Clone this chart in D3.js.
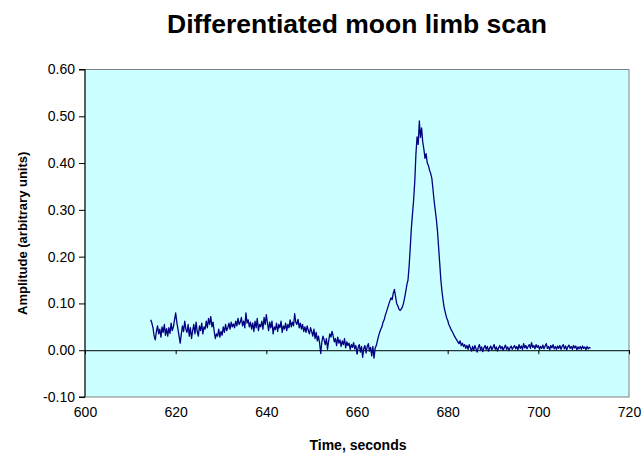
<!DOCTYPE html>
<html>
<head>
<meta charset="utf-8">
<script src="https://cdn.jsdelivr.net/npm/d3@7"></script>
<style>
  html, body { margin: 0; padding: 0; background: #ffffff; }
  svg { display: block; }
  text { font-family: "Liberation Sans", Arial, sans-serif; }
</style>
</head>
<body>
<svg id="chart" width="644" height="454"></svg>
<script>
const chartTitle = "Differentiated moon limb scan";
const xAxisTitle = "Time, seconds";
const yAxisTitle = "Amplitude (arbitrary units)";
const xTicks = [600, 620, 640, 660, 680, 700, 720];
const xTickLabels = ["600", "620", "640", "660", "680", "700", "720"];
const yTicks = [-0.1, 0, 0.1, 0.2, 0.3, 0.4, 0.5, 0.6];
const yTickLabels = ["-0.10", "0.00", "0.10", "0.20", "0.30", "0.40", "0.50", "0.60"];

const times = [
  614.5, 614.75, 615, 615.25, 615.5, 615.75, 616, 616.25, 616.5, 616.75, 617, 617.25, 617.5, 617.75, 618, 618.25, 618.5, 618.75, 619, 619.25,
  619.5, 619.75, 620, 620.25, 620.5, 620.75, 621, 621.25, 621.5, 621.75, 622, 622.25, 622.5, 622.75, 623, 623.25, 623.5, 623.75, 624, 624.25,
  624.5, 624.75, 625, 625.25, 625.5, 625.75, 626, 626.25, 626.5, 626.75, 627, 627.25, 627.5, 627.75, 628, 628.25, 628.5, 628.75, 629, 629.25,
  629.5, 629.75, 630, 630.25, 630.5, 630.75, 631, 631.25, 631.5, 631.75, 632, 632.25, 632.5, 632.75, 633, 633.25, 633.5, 633.75, 634, 634.25,
  634.5, 634.75, 635, 635.25, 635.5, 635.75, 636, 636.25, 636.5, 636.75, 637, 637.25, 637.5, 637.75, 638, 638.25, 638.5, 638.75, 639, 639.25,
  639.5, 639.75, 640, 640.25, 640.5, 640.75, 641, 641.25, 641.5, 641.75, 642, 642.25, 642.5, 642.75, 643, 643.25, 643.5, 643.75, 644, 644.25,
  644.5, 644.75, 645, 645.25, 645.5, 645.75, 646, 646.25, 646.5, 646.75, 647, 647.25, 647.5, 647.75, 648, 648.25, 648.5, 648.75, 649, 649.25,
  649.5, 649.75, 650, 650.25, 650.5, 650.75, 651, 651.25, 651.5, 651.75, 652, 652.25, 652.5, 652.75, 653, 653.25, 653.5, 653.75, 654, 654.25,
  654.5, 654.75, 655, 655.25, 655.5, 655.75, 656, 656.25, 656.5, 656.75, 657, 657.25, 657.5, 657.75, 658, 658.25, 658.5, 658.75, 659, 659.25,
  659.5, 659.75, 660, 660.25, 660.5, 660.75, 661, 661.25, 661.5, 661.75, 662, 662.25, 662.5, 662.75, 663, 663.25, 663.5, 663.75, 664, 664.25,
  664.5, 664.75, 665, 665.25, 665.5, 665.75, 666, 666.25, 666.5, 666.75, 667, 667.25, 667.5, 667.75, 668, 668.25, 668.5, 668.75, 669, 669.25,
  669.5, 669.75, 670, 670.25, 670.5, 670.75, 671, 671.25, 671.5, 671.75, 672, 672.25, 672.5, 672.75, 673, 673.25, 673.5, 673.75, 674, 674.25,
  674.5, 674.75, 675, 675.25, 675.5, 675.75, 676, 676.25, 676.5, 676.75, 677, 677.25, 677.5, 677.75, 678, 678.25, 678.5, 678.75, 679, 679.25,
  679.5, 679.75, 680, 680.25, 680.5, 680.75, 681, 681.25, 681.5, 681.75, 682, 682.25, 682.5, 682.75, 683, 683.25, 683.5, 683.75, 684, 684.25,
  684.5, 684.75, 685, 685.25, 685.5, 685.75, 686, 686.25, 686.5, 686.75, 687, 687.25, 687.5, 687.75, 688, 688.25, 688.5, 688.75, 689, 689.25,
  689.5, 689.75, 690, 690.25, 690.5, 690.75, 691, 691.25, 691.5, 691.75, 692, 692.25, 692.5, 692.75, 693, 693.25, 693.5, 693.75, 694, 694.25,
  694.5, 694.75, 695, 695.25, 695.5, 695.75, 696, 696.25, 696.5, 696.75, 697, 697.25, 697.5, 697.75, 698, 698.25, 698.5, 698.75, 699, 699.25,
  699.5, 699.75, 700, 700.25, 700.5, 700.75, 701, 701.25, 701.5, 701.75, 702, 702.25, 702.5, 702.75, 703, 703.25, 703.5, 703.75, 704, 704.25,
  704.5, 704.75, 705, 705.25, 705.5, 705.75, 706, 706.25, 706.5, 706.75, 707, 707.25, 707.5, 707.75, 708, 708.25, 708.5, 708.75, 709, 709.25,
  709.5, 709.75, 710, 710.25, 710.5, 710.75, 711, 711.25, 711.5
];

const amplitude = [
  0.065, 0.058, 0.048, 0.030, 0.022, 0.040, 0.052, 0.035, 0.045, 0.028, 0.050, 0.038, 0.055, 0.032, 0.046, 0.030, 0.048, 0.036, 0.058, 0.042,
  0.050, 0.065, 0.080, 0.060, 0.045, 0.030, 0.015, 0.035, 0.052, 0.040, 0.062, 0.045, 0.038, 0.055, 0.030, 0.048, 0.025, 0.042, 0.055, 0.035,
  0.060, 0.040, 0.030, 0.052, 0.042, 0.058, 0.035, 0.050, 0.045, 0.062, 0.048, 0.068, 0.055, 0.072, 0.050, 0.060, 0.040, 0.025, 0.035, 0.030,
  0.045, 0.028, 0.040, 0.032, 0.050, 0.038, 0.055, 0.042, 0.048, 0.058, 0.045, 0.060, 0.050, 0.056, 0.048, 0.062, 0.052, 0.068, 0.055, 0.060,
  0.070, 0.052, 0.062, 0.048, 0.080, 0.058, 0.065, 0.050, 0.060, 0.045, 0.058, 0.040, 0.062, 0.048, 0.068, 0.042, 0.055, 0.050, 0.062, 0.045,
  0.070, 0.055, 0.076, 0.058, 0.042, 0.060, 0.048, 0.062, 0.035, 0.050, 0.044, 0.058, 0.040, 0.055, 0.048, 0.062, 0.038, 0.052, 0.045, 0.058,
  0.042, 0.055, 0.048, 0.065, 0.050, 0.060, 0.052, 0.078, 0.060, 0.055, 0.066, 0.048, 0.058, 0.045, 0.055, 0.040, 0.050, 0.038, 0.052, 0.042,
  0.035, 0.048, 0.040, 0.030, 0.045, 0.025, 0.038, 0.020, 0.030, 0.015, -0.007, 0.018, 0.030, 0.022, 0.012, 0.025, 0.002, 0.020, 0.035, 0.028,
  0.040, 0.030, 0.018, 0.025, 0.010, 0.028, 0.015, 0.022, 0.008, 0.020, 0.012, 0.025, 0.005, 0.018, 0.010, 0.015, 0.002, 0.012, 0.006, 0.016,
  0.003, 0.010, -0.008, 0.006, 0.012, -0.004, 0.008, -0.015, 0.004, 0.010, -0.006, 0.008, 0.014, -0.002, 0.006, -0.012, 0.008, -0.017, 0.004, 0.010,
  0.020, 0.030, 0.038, 0.045, 0.050, 0.060, 0.065, 0.075, 0.082, 0.090, 0.098, 0.105, 0.112, 0.108, 0.122, 0.130, 0.115, 0.100, 0.095, 0.088,
  0.085, 0.088, 0.092, 0.100, 0.112, 0.125, 0.140, 0.150, 0.180, 0.220, 0.262, 0.292, 0.322, 0.362, 0.420, 0.456, 0.440, 0.490, 0.455, 0.475,
  0.445, 0.430, 0.410, 0.420, 0.400, 0.395, 0.385, 0.378, 0.368, 0.345, 0.320, 0.300, 0.280, 0.255, 0.220, 0.185, 0.150, 0.125, 0.106, 0.090,
  0.080, 0.070, 0.064, 0.055, 0.050, 0.044, 0.040, 0.035, 0.030, 0.026, 0.022, 0.018, 0.014, 0.020, 0.010, 0.015, 0.008, 0.012, 0.004, 0.010,
  0.002, 0.012, 0.005, -0.002, 0.008, 0.000, 0.010, 0.003, -0.004, 0.006, 0.012, 0.001, 0.007, -0.003, 0.005, 0.010, 0.002, 0.008, -0.002, 0.004,
  0.009, 0.001, 0.006, 0.012, 0.002, 0.007, -0.002, 0.005, 0.010, 0.003, 0.008, 0.000, 0.006, 0.011, 0.002, 0.007, -0.001, 0.005, 0.009, 0.002,
  0.006, 0.010, 0.003, 0.008, 0.001, 0.012, 0.004, 0.009, 0.002, 0.014, 0.005, 0.010, 0.003, 0.008, 0.012, 0.004, 0.016, 0.006, 0.010, 0.003,
  0.012, 0.006, 0.010, 0.002, 0.008, 0.004, 0.011, 0.003, 0.009, 0.014, 0.004, 0.008, 0.001, 0.010, 0.005, 0.012, 0.003, 0.008, 0.002, 0.009,
  0.004, 0.010, 0.002, 0.008, 0.012, 0.003, 0.009, 0.001, 0.007, 0.011, 0.004, 0.008, 0.002, 0.010, 0.005, 0.009, 0.001, 0.007, 0.003, 0.008,
  0.002, 0.009, 0.004, 0.007, 0.001, 0.008, 0.003, 0.006, 0.004
];

const svg = d3.select("#chart");
const plot = { left: 85, right: 629, top: 69.5, bottom: 397 };

const x = d3.scaleLinear().domain([600, 720]).range([plot.left, plot.right]);
const y = d3.scaleLinear().domain([-0.1, 0.6]).range([plot.bottom, plot.top]);

// plot background
svg.append("rect")
  .attr("x", plot.left).attr("y", plot.top)
  .attr("width", plot.right - plot.left).attr("height", plot.bottom - plot.top)
  .attr("fill", "#ccffff").attr("stroke", "#808080").attr("stroke-width", 1);

// y axis
const yAxis = d3.axisLeft(y).tickValues(yTicks)
  .tickFormat((d, i) => yTickLabels[i]).tickSize(6).tickPadding(4);
const gy = svg.append("g").attr("transform", `translate(${plot.left},0)`).call(yAxis);
gy.select(".domain").attr("stroke", "#000").attr("d", `M-6,${y(0.6)}H0V${y(-0.1)}H-6`);
gy.selectAll(".tick line").attr("stroke", "#000");
gy.selectAll(".tick text").attr("font-size", 14).attr("fill", "#000")
  .style("font-family", "'Liberation Sans', Arial, sans-serif");

// zero line with x ticks
const xAxisZero = d3.axisBottom(x).tickValues(xTicks).tickFormat("").tickSize(4).tickSizeOuter(0);
const gx0 = svg.append("g").attr("transform", `translate(0,${y(0)})`).call(xAxisZero);
gx0.select(".domain").attr("stroke", "#000");
gx0.selectAll(".tick line").attr("stroke", "#000");

// x labels at the bottom
const xAxisLabels = d3.axisBottom(x).tickValues(xTicks)
  .tickFormat((d, i) => xTickLabels[i]).tickSize(0).tickPadding(10);
const gx = svg.append("g").attr("transform", `translate(0,${plot.bottom})`).call(xAxisLabels);
gx.select(".domain").remove();
gx.selectAll(".tick text").attr("font-size", 14).attr("fill", "#000")
  .style("font-family", "'Liberation Sans', Arial, sans-serif");

// data line
const data = times.map((t, i) => ({ t, v: amplitude[i] }));
const line = d3.line().x(d => x(d.t)).y(d => y(d.v));
svg.append("path").datum(data)
  .attr("d", line)
  .attr("fill", "none")
  .attr("stroke", "#000080")
  .attr("stroke-width", 1.3)
  .attr("stroke-linejoin", "round");

// titles
svg.append("text").attr("x", 357).attr("y", 33)
  .attr("text-anchor", "middle").attr("font-size", 26.5).attr("font-weight", "bold")
  .text(chartTitle);

svg.append("text").attr("x", 358).attr("y", 450)
  .attr("text-anchor", "middle").attr("font-size", 14).attr("font-weight", "bold")
  .text(xAxisTitle);

svg.append("text")
  .attr("transform", `translate(27,${(plot.top + plot.bottom) / 2}) rotate(-90)`)
  .attr("text-anchor", "middle").attr("font-size", 13).attr("font-weight", "bold")
  .text(yAxisTitle);
</script>
</body>
</html>
